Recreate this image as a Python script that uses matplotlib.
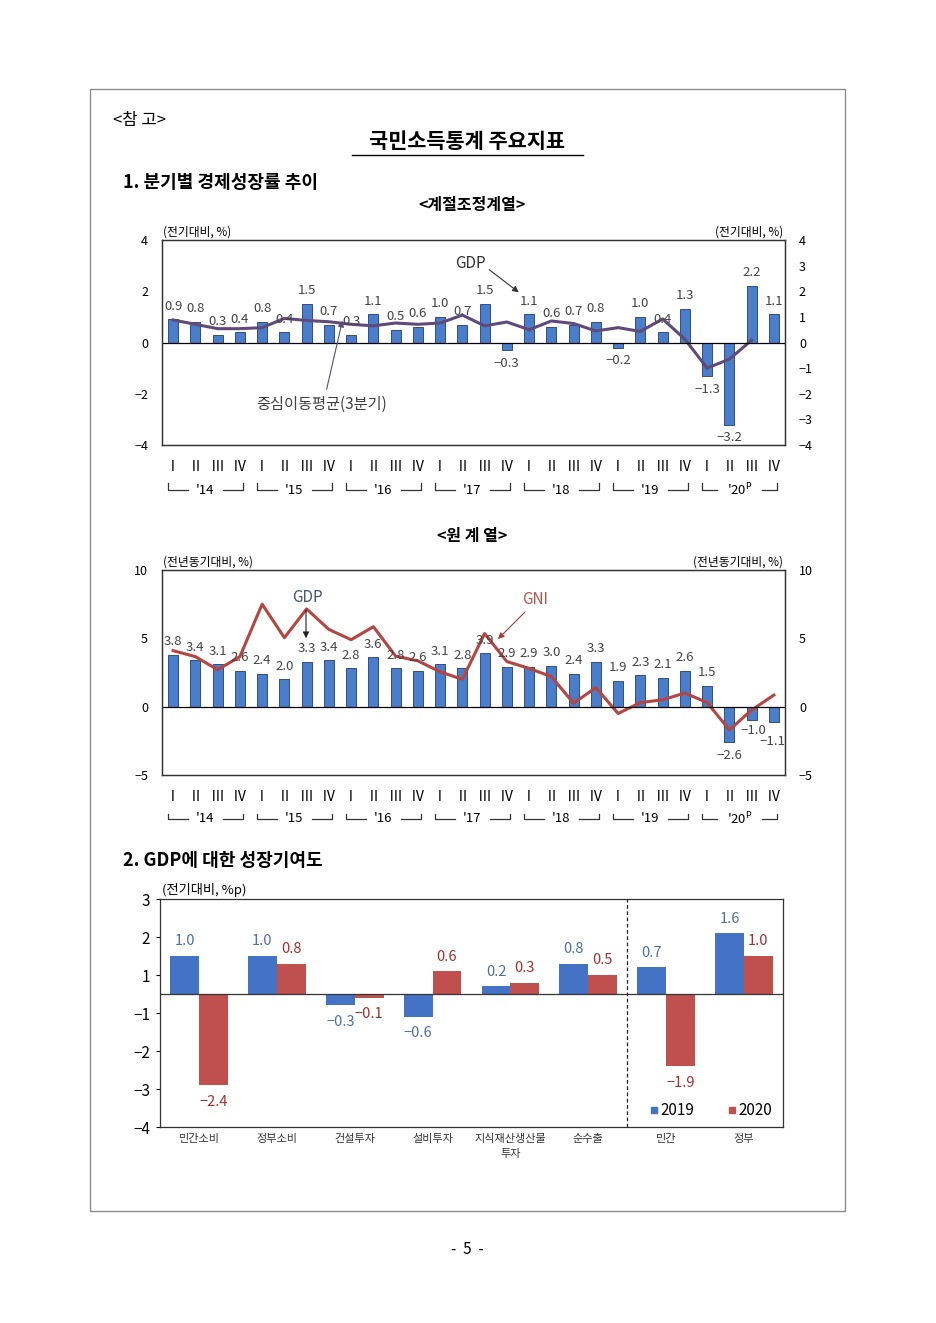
import numpy as np
import matplotlib
matplotlib.use('Agg')
import matplotlib.pyplot as plt
from matplotlib import transforms
from matplotlib.lines import Line2D
from matplotlib.patches import Rectangle, FancyArrowPatch

plt.rcParams['font.family'] = ['Noto Sans CJK KR', 'DejaVu Sans']
plt.rcParams['axes.unicode_minus'] = True
plt.rcParams['mathtext.fontset'] = 'dejavusans'

W, H = 936, 1323

# ---- data ----
quarters = ['Ⅰ', 'Ⅱ', 'Ⅲ', 'Ⅳ'] * 7
years = ["'14", "'15", "'16", "'17", "'18", "'19", "'20$^{\\rm P}$"]

# seasonally adjusted, q/q growth (%)
sa_gdp = [0.9, 0.8, 0.3, 0.4, 0.8, 0.4, 1.5, 0.7,
          0.3, 1.1, 0.5, 0.6, 1.0, 0.7, 1.5, -0.3,
          1.1, 0.6, 0.7, 0.8, -0.2, 1.0, 0.4, 1.3,
          -1.3, -3.2, 2.2, 1.1]
# centered 3-quarter moving average (ends at '20 III)
sa_ma = [0.88, 0.71, 0.54, 0.54, 0.58, 0.94, 0.86, 0.81,
         0.71, 0.65, 0.76, 0.71, 0.76, 1.07, 0.65, 0.80,
         0.50, 0.84, 0.74, 0.45, 0.58, 0.43, 0.92, 0.13,
         -1.00, -0.65, 0.09]

# original series, y/y growth (%)
yoy_gdp = [3.8, 3.4, 3.1, 2.6, 2.4, 2.0, 3.3, 3.4,
           2.8, 3.6, 2.8, 2.6, 3.1, 2.8, 3.9, 2.9,
           2.9, 3.0, 2.4, 3.3, 1.9, 2.3, 2.1, 2.6,
           1.5, -2.6, -1.0, -1.1]
yoy_gni = [4.1, 3.66, 2.7, 3.66, 7.5, 5.05, 7.15, 5.65,
           4.9, 5.85, 3.7, 3.35, 2.55, 2.0, 5.35, 3.3,
           2.8, 2.2, 0.25, 1.4, -0.5, 0.3, 0.5, 1.0,
           0.3, -1.7, -0.25, 0.85]

# contribution to GDP growth (%p)
contrib_cats = ['민간소비', '정부소비', '건설투자', '설비투자',
                '지식재산생산물\n투자', '순수출', '민간', '정부']
contrib_2019 = [1.0, 1.0, -0.3, -0.6, 0.2, 0.8, 0.7, 1.6]
contrib_2020 = [-2.4, 0.8, -0.1, 0.6, 0.3, 0.5, -1.9, 1.0]
contrib_ticks = [2.5, 1.5, 0.5, -0.5, -1.5, -2.5, -3.5]
contrib_ticklabels = ['3', '2', '1', '−1', '−2', '−3', '−4']

BAR = '#4a7ecb'
BAR_EDGE = '#1f3b73'
LABEL = '#444444'


def px(x, y):
    return (x / W, 1 - y / H)


def rect(l, t, r, b):
    return [l / W, 1 - b / H, (r - l) / W, (b - t) / H]


def fmt(v):
    return f'{v:.1f}'.replace('-', '−')


def arrow(p0, p1, color):
    fig.add_artist(FancyArrowPatch(px(*p0), px(*p1), transform=fig.transFigure,
                                   arrowstyle='-|>', mutation_scale=9,
                                   color=color, lw=0.8))


fig = plt.figure(figsize=(W / 100, H / 100), dpi=100)

# page frame
fig.add_artist(Rectangle(px(90, 1211), 755 / W, 1122 / H, transform=fig.transFigure,
                         fill=False, edgecolor='#8c8c8c', lw=1.0))

fig.text(*px(113, 120), '<참 고>', fontsize=12, ha='left', va='center')
fig.text(*px(467, 142), '국민소득통계 주요지표', fontsize=15, fontweight='bold',
         ha='center', va='center')
fig.add_artist(Line2D([352 / W, 583 / W], [1 - 155 / H, 1 - 155 / H],
                      transform=fig.transFigure, color='black', lw=1.0))
fig.text(*px(123, 182), '1. 분기별 경제성장률 추이', fontsize=13, fontweight='bold',
         ha='left', va='center')
fig.text(*px(472, 205), '<계절조정계열>', fontsize=11.5, fontweight='bold',
         ha='center', va='center')
fig.text(*px(472, 536), '<원 계 열>', fontsize=11.5, fontweight='bold',
         ha='center', va='center')
fig.text(*px(123, 860), '2. GDP에 대한 성장기여도', fontsize=13, fontweight='bold',
         ha='left', va='center')
fig.text(*px(467, 1249), '-  5  -', fontsize=11, ha='center', va='center')


def quarter_panel(top, bottom, ylim, lticks, rticks, bars, line, line_color, unit,
                  br_top, br_line, nudge=None):
    nudge = nudge or {}
    ax = fig.add_axes(rect(162, top, 785, bottom))
    x = np.arange(len(bars))
    ax.bar(x, bars, width=0.45, color=BAR, edgecolor=BAR_EDGE, linewidth=0.6, zorder=2)
    ax.plot(np.arange(len(line)), line, color=line_color, lw=2.2, zorder=3)
    ax.axhline(0, color='black', lw=0.9, zorder=4)
    ax.set_xlim(-0.5, len(bars) - 0.5)
    ax.set_ylim(*ylim)
    ax.set_yticks(lticks)
    ax.set_yticklabels([str(t).replace('-', '−') for t in lticks])
    ax.tick_params(axis='y', length=0, pad=10, labelsize=9)
    ax.set_xticks(x)
    ax.set_xticklabels(quarters, fontsize=10)
    ax.tick_params(axis='x', length=0, pad=11)
    axr = ax.twinx()
    axr.set_ylim(*ylim)
    axr.set_yticks(rticks)
    axr.set_yticklabels([str(t).replace('-', '−') for t in rticks])
    axr.tick_params(axis='y', length=0, pad=10, labelsize=9)
    for a in (ax, axr):
        for s in a.spines.values():
            s.set_color('#333333')
            s.set_linewidth(0.9)

    for i, v in enumerate(bars):
        off = nudge.get(i, (0, 9.5 if v >= 0 else -9.5))
        ax.annotate(fmt(v), (i, v), xytext=off,
                    textcoords='offset points', ha='center', va='center',
                    fontsize=9.5, color=LABEL, zorder=5)

    fig.text(*px(163, top - 8), unit, fontsize=8.5, ha='left', va='center')
    fig.text(*px(783, top - 8), unit, fontsize=8.5, ha='right', va='center')

    # year brackets under the quarter labels
    tr = transforms.blended_transform_factory(ax.transData, fig.transFigure)
    yt, yl = 1 - br_top / H, 1 - br_line / H
    for k, yr in enumerate(years):
        x0, x1 = 4 * k - 0.25, 4 * k + 3.15
        xc = (x0 + x1) / 2
        gap = 1.0 if k == 6 else 0.8
        ax.plot([x0, x0, xc - gap], [yt, yl, yl], transform=tr, color='#333333',
                lw=0.9, clip_on=False)
        ax.plot([xc + gap, x1, x1], [yl, yl, yt], transform=tr, color='#333333',
                lw=0.9, clip_on=False)
        ax.text(xc, yl, yr, transform=tr, ha='center', va='center', fontsize=9.5)
    return ax


ax1 = quarter_panel(240, 445, (-4, 4), [-4, -2, 0, 2, 4], list(range(-4, 5)),
                    sa_gdp, sa_ma, '#604a7b', '(전기대비, %)', 483, 490)
fig.text(*px(470, 263), 'GDP', fontsize=11, color='#333333', ha='center', va='center')
arrow((487, 268), (521, 294), '#333333')
fig.text(*px(322, 404), '중심이동평균(3분기)', fontsize=11, color='#404040',
         ha='center', va='center')
arrow((326, 392), (343, 318), '#5a4a78')

ax2 = quarter_panel(570, 775, (-5, 10), [-5, 0, 5, 10], [-5, 0, 5, 10],
                    yoy_gdp, yoy_gni, '#b64541', '(전년동기대비, %)', 814, 819,
                    nudge={26: (1, -7.5), 27: (-1, -14)})
fig.text(*px(307, 598), 'GDP', fontsize=11, color='#44546a', ha='center', va='center')
arrow((306, 607), (306, 641), '#222222')
fig.text(*px(535, 600), 'GNI', fontsize=11, color='#c0504d', ha='center', va='center')
arrow((527, 610), (496, 641), '#a83c38')

# ---- contribution chart ----
ax3 = fig.add_axes(rect(160, 899, 783, 1127))
xc = np.arange(len(contrib_cats))
bw = 0.37
ax3.bar(xc - bw / 2, contrib_2019, width=bw, color='#4472c4', zorder=2, label='2019')
ax3.bar(xc + bw / 2, contrib_2020, width=bw, color='#c0504d', zorder=2, label='2020')
ax3.axhline(0, color='#333333', lw=0.9, zorder=3)
ax3.axvline(5.5, color='#222222', lw=0.9, ls=(0, (3, 2)), zorder=3)
ax3.set_xlim(-0.5, len(contrib_cats) - 0.5)
ax3.set_ylim(-3.5, 2.5)
ax3.set_yticks(contrib_ticks)
ax3.set_yticklabels(contrib_ticklabels)
ax3.tick_params(axis='y', length=3, pad=4, labelsize=11)
ax3.set_xticks(xc)
ax3.set_xticklabels(contrib_cats, fontsize=8, color='#333333', linespacing=1.6)
ax3.tick_params(axis='x', length=0, pad=5)
for s in ax3.spines.values():
    s.set_color('#333333')
    s.set_linewidth(0.9)
for vals, off, col in ((contrib_2019, -bw / 2, '#4e6fa3'), (contrib_2020, bw / 2, '#a0302c')):
    for i, v in enumerate(vals):
        ax3.annotate(fmt(v), (i + off, v), xytext=(0, 10.5 if v >= 0 else -12),
                     textcoords='offset points', ha='center', va='center',
                     fontsize=10.5, color=col)
fig.text(*px(162, 890), '(전기대비, %p)', fontsize=9.5, ha='left', va='center')
handles = [Line2D([], [], marker='s', ls='', color='#4472c4', markersize=5),
           Line2D([], [], marker='s', ls='', color='#c0504d', markersize=5)]
ax3.legend(handles, ['2019', '2020'], loc='lower right', ncol=2, frameon=False,
           fontsize=11, handlelength=0.6, handletextpad=0.1, columnspacing=2.2,
           bbox_to_anchor=(0.995, 0.0), borderaxespad=0.1)

fig.savefig('out.png', dpi=100, facecolor='white')
